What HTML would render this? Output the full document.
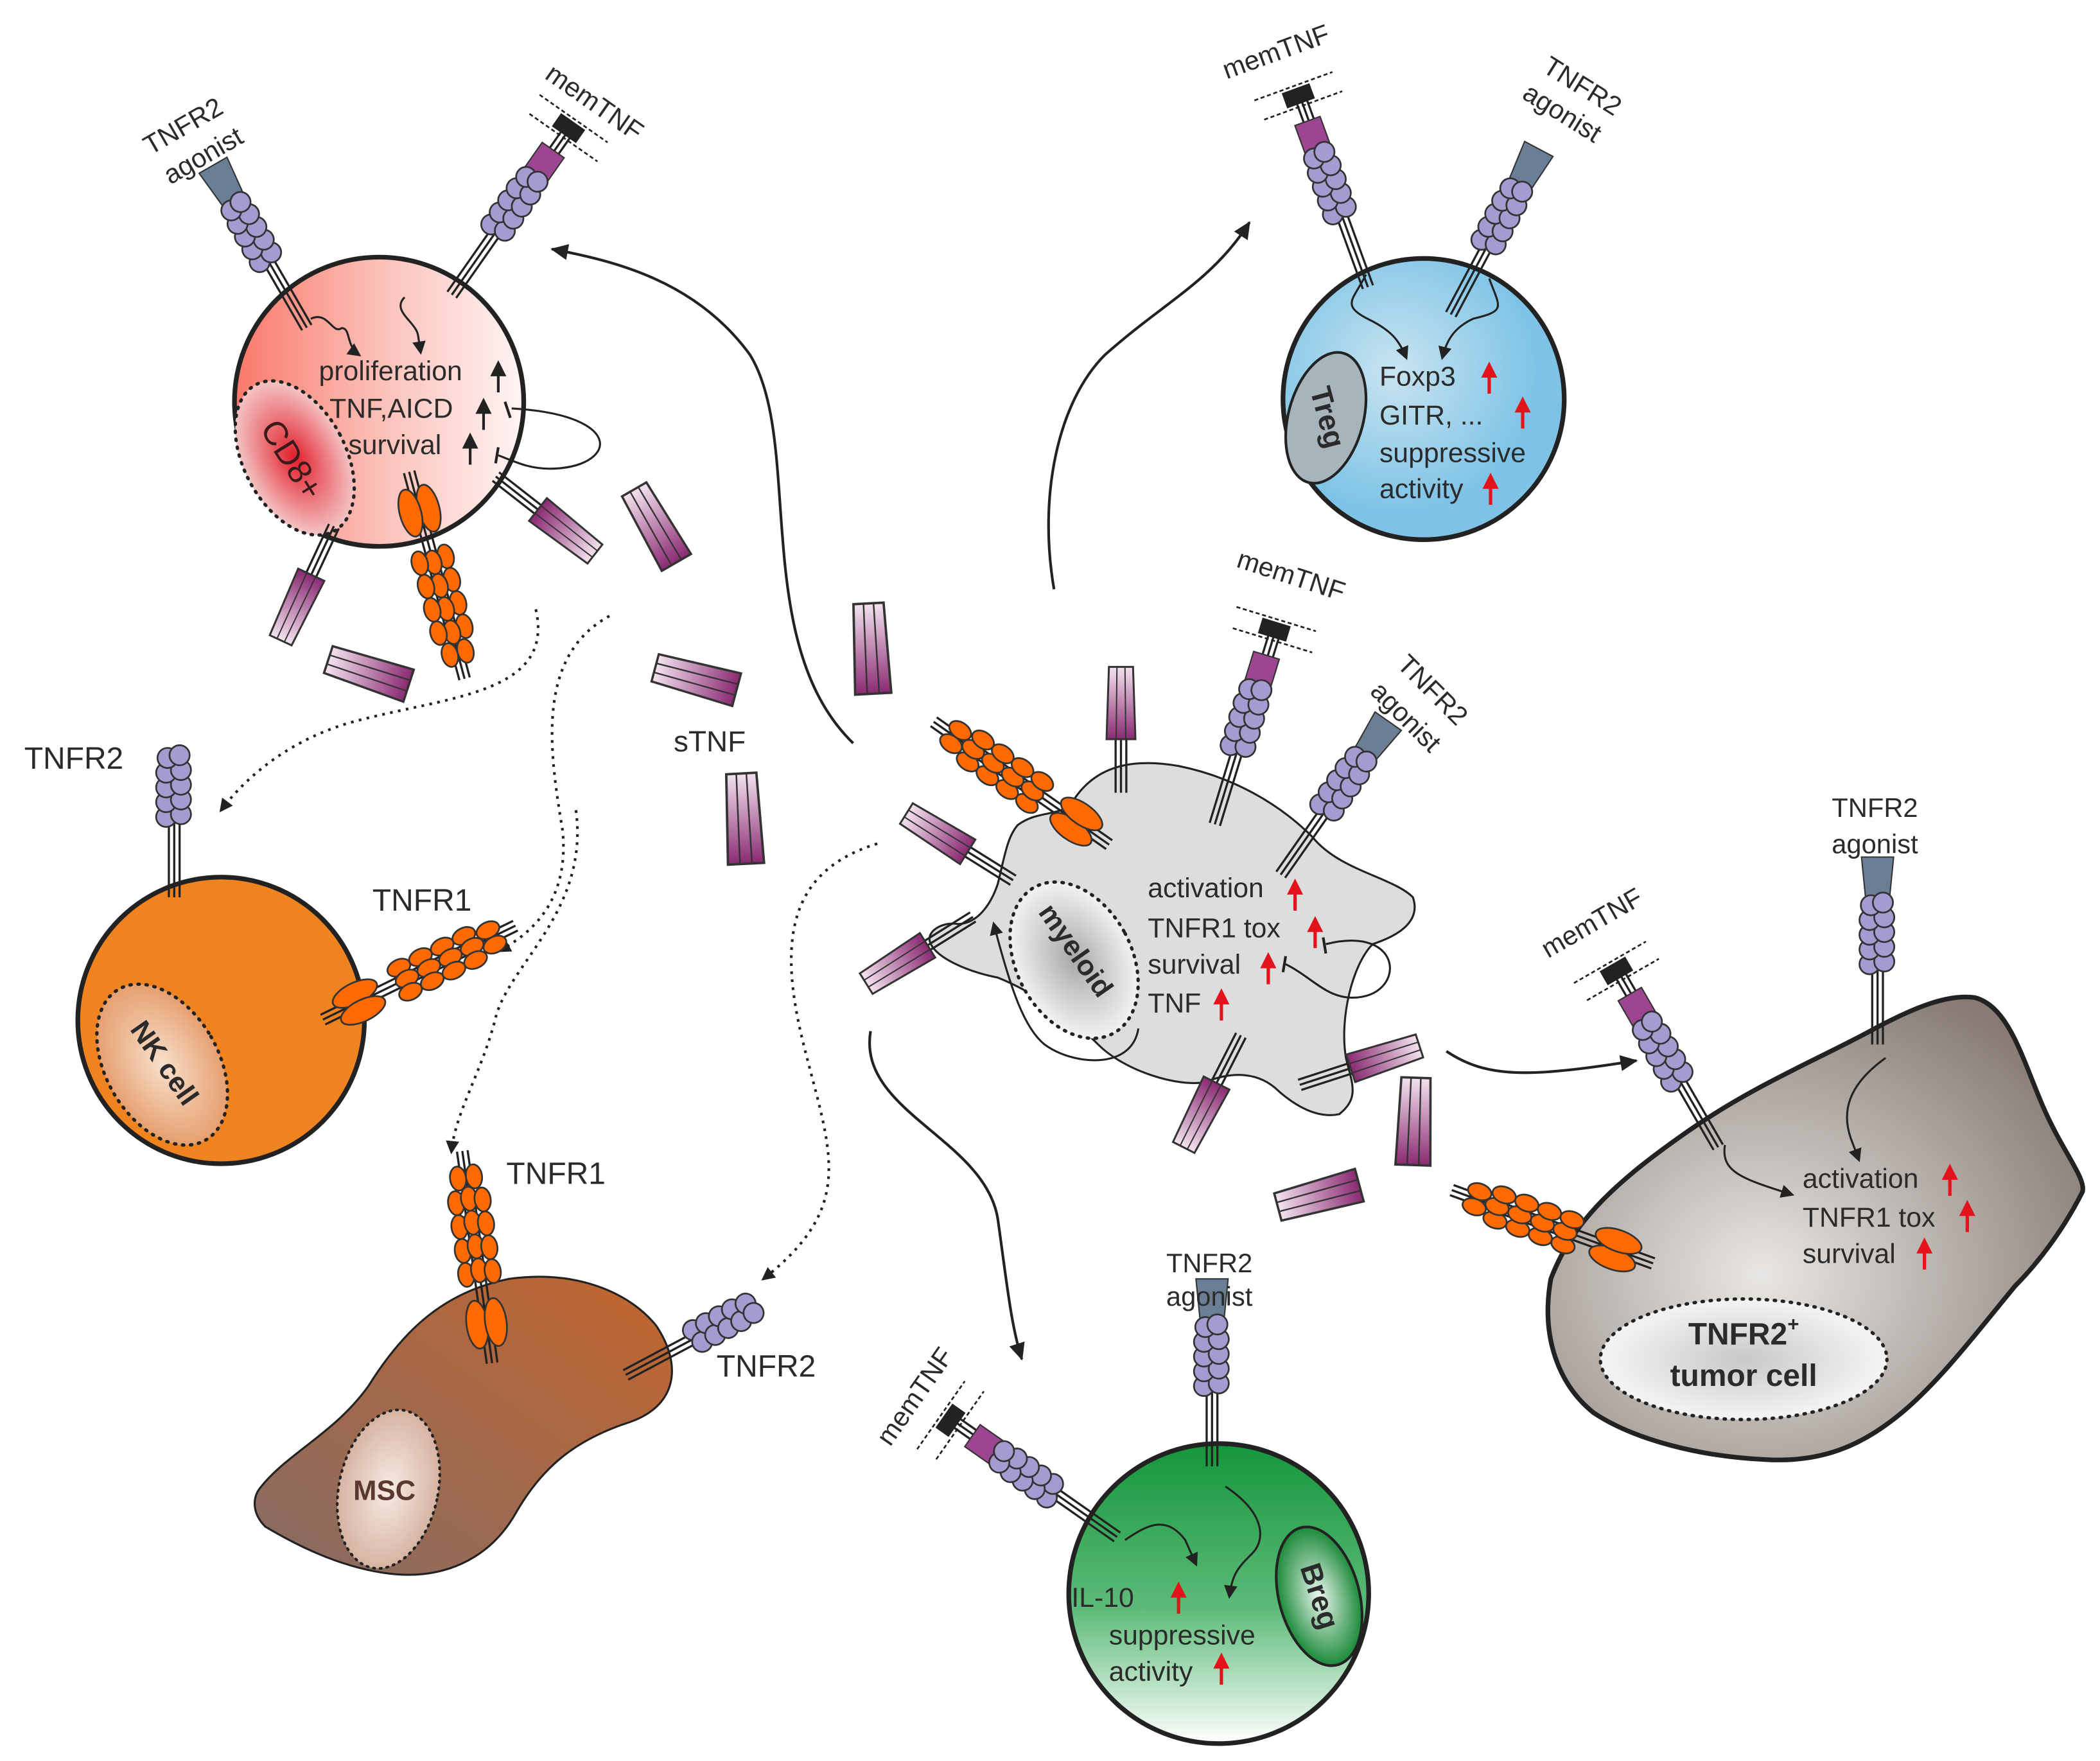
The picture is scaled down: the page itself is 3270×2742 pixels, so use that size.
<!DOCTYPE html>
<html><head><meta charset="utf-8"><style>html,body{margin:0;padding:0;background:#fff}svg{display:block}text{font-family:"Liberation Sans",sans-serif;fill:#2b2b2b}</style></head><body>
<svg width="3270" height="2742" viewBox="0 0 1568 1315" xmlns="http://www.w3.org/2000/svg">
<defs>
<linearGradient id="cd8" x1="0" y1="0" x2="1" y2="0"><stop offset="0" stop-color="#f9786a"/><stop offset="0.5" stop-color="#fbc0b8"/><stop offset="1" stop-color="#fff4f4"/></linearGradient>
<radialGradient id="cd8n"><stop offset="0" stop-color="#e21e2a"/><stop offset="1" stop-color="#f4c4c4"/></radialGradient>
<radialGradient id="treg" cx="0.4" cy="0.4"><stop offset="0" stop-color="#c8e4f0"/><stop offset="1" stop-color="#7ec3e6"/></radialGradient>
<radialGradient id="nkn"><stop offset="0" stop-color="#f7e0cc"/><stop offset="1" stop-color="#e6a070"/></radialGradient>
<linearGradient id="msc" x1="1" y1="0" x2="0" y2="1"><stop offset="0" stop-color="#c2652e"/><stop offset="1" stop-color="#866c64"/></linearGradient>
<radialGradient id="mscn"><stop offset="0" stop-color="#f7ebe4"/><stop offset="1" stop-color="#d6b4a2"/></radialGradient>
<linearGradient id="breg" x1="0" y1="0" x2="0" y2="1"><stop offset="0" stop-color="#14963c"/><stop offset="0.55" stop-color="#5dbb78"/><stop offset="1" stop-color="#ffffff"/></linearGradient>
<radialGradient id="bregn"><stop offset="0" stop-color="#eaf7ee"/><stop offset="1" stop-color="#1c8a3a"/></radialGradient>
<radialGradient id="tum" cx="0.4" cy="0.6" r="0.7"><stop offset="0" stop-color="#e8e6e4"/><stop offset="1" stop-color="#867a72"/></radialGradient>
<radialGradient id="tumn"><stop offset="0" stop-color="#c8c8c8"/><stop offset="1" stop-color="#f4f4f4"/></radialGradient>
<radialGradient id="myn"><stop offset="0" stop-color="#a8a8a8"/><stop offset="1" stop-color="#f2f2f2"/></radialGradient>
<linearGradient id="stg" x1="0" y1="1" x2="0" y2="0"><stop offset="0" stop-color="#8a2a72"/><stop offset="1" stop-color="#f3e3ef"/></linearGradient>
<marker id="ah" markerWidth="10" markerHeight="10" refX="8" refY="5" orient="auto" markerUnits="userSpaceOnUse"><path d="M0,0 L10,5 L0,10 Z" fill="#222"/></marker>
<marker id="ahs" markerWidth="14" markerHeight="14" refX="12" refY="7" orient="auto" markerUnits="userSpaceOnUse"><path d="M0,1 L13,7 L0,13 Z" fill="#222"/></marker>
<g id="stem"><path d="M-4,10 V-50 M0,10 V-50 M4,10 V-50" stroke="#222" stroke-width="1.6" fill="none"/></g>
<g id="chain" stroke="#333" stroke-width="1.3" fill="#a59bd0">
<ellipse cx="-6" cy="-50" rx="7.5" ry="7.5"/><ellipse cx="5" cy="-52" rx="7.5" ry="7.5"/>
<ellipse cx="-6" cy="-61" rx="7.5" ry="7.5"/><ellipse cx="5" cy="-63" rx="7.5" ry="7.5"/>
<ellipse cx="-6" cy="-72" rx="7.5" ry="7.5"/><ellipse cx="5" cy="-74" rx="7.5" ry="7.5"/>
<ellipse cx="-6" cy="-83" rx="7.5" ry="7.5"/><ellipse cx="5" cy="-85" rx="7.5" ry="7.5"/>
<ellipse cx="-5" cy="-94" rx="7.5" ry="7.5"/><ellipse cx="4" cy="-96" rx="7.5" ry="7.5"/>
</g>
<g id="r2"><use href="#stem"/><use href="#chain"/></g>
<g id="ag"><path d="M-9,-100 L9,-100 L12,-130 L-12,-130 Z" fill="#6a7f95" stroke="#333" stroke-width="1"/><use href="#r2"/></g>
<g id="mt"><path d="M-3,-80 V-140 M1,-80 V-140 M5,-80 V-140" stroke="#222" stroke-width="1.6"/><rect x="-10" y="-122" width="20" height="34" fill="#9c4590" stroke="#333" stroke-width="1"/><use href="#r2"/><rect x="-11" y="-148" width="22" height="12" fill="#222"/><path d="M-32,-150 H30 M-30,-134 H32" stroke="#222" stroke-width="1.3" stroke-dasharray="3,2"/></g>
<g id="r1"><path d="M-4,10 V-150 M0,10 V-150 M4,10 V-150" stroke="#222" stroke-width="1.6"/>
<g fill="#ff6a00" stroke="#333" stroke-width="1.3"><ellipse cx="-7" cy="-20" rx="8" ry="18"/><ellipse cx="7" cy="-20" rx="8" ry="18"/>
<ellipse cx="-10" cy="-58" rx="6" ry="9"/><ellipse cx="0" cy="-60" rx="6" ry="9"/><ellipse cx="10" cy="-58" rx="6" ry="9"/>
<ellipse cx="-10" cy="-76" rx="6" ry="9"/><ellipse cx="0" cy="-78" rx="6" ry="9"/><ellipse cx="10" cy="-76" rx="6" ry="9"/>
<ellipse cx="-10" cy="-94" rx="6" ry="9"/><ellipse cx="0" cy="-96" rx="6" ry="9"/><ellipse cx="10" cy="-94" rx="6" ry="9"/>
<ellipse cx="-10" cy="-112" rx="6" ry="9"/><ellipse cx="0" cy="-114" rx="6" ry="9"/><ellipse cx="10" cy="-112" rx="6" ry="9"/>
<ellipse cx="-6" cy="-130" rx="6" ry="9"/><ellipse cx="6" cy="-130" rx="6" ry="9"/></g></g>
<g id="st"><path d="M-9,0 L9,0 L7.5,-45 L-7.5,-45 Z" fill="url(#stg)" stroke="#333" stroke-width="1.2"/><path d="M-3,0 L-2.5,-45 M3,0 L2.5,-45" stroke="#333" stroke-width="0.8"/></g>
<g id="bst"><path d="M-4,10 V-32 M0,10 V-32 M4,10 V-32" stroke="#222" stroke-width="1.6"/><use href="#st" transform="translate(0,-30) scale(1.2)"/></g>
<g id="ra"><path d="M0,0 V-14" stroke="#e3131b" stroke-width="2.5"/><path d="M-6,-12 L6,-12 L0,-24 Z" fill="#e3131b"/></g>
<g id="ba"><path d="M0,0 V-14" stroke="#222" stroke-width="2"/><path d="M-6,-12 L6,-12 L0,-24 Z" fill="#222"/></g>
</defs>

<g fill="none" stroke="#222" stroke-width="2">
<path d="M637,555 C560,480 600,330 560,265 C520,210 460,195 412,186" marker-end="url(#ahs)"/>
<path d="M787,440 C775,370 790,300 825,265 C870,225 905,210 933,166" marker-end="url(#ahs)"/>
<path d="M650,770 C640,830 735,850 745,910 C752,960 755,990 763,1015" marker-end="url(#ahs)"/>
<path d="M1080,785 C1110,805 1140,805 1222,792" marker-end="url(#ahs)"/>
</g>
<g fill="none" stroke="#222" stroke-width="2" stroke-dasharray="2,4">
<path d="M400,455 C415,520 330,520 260,540 C210,555 180,585 165,605" marker-end="url(#ah)"/>
<path d="M455,460 C400,490 410,560 420,620 C425,670 400,695 373,710" marker-end="url(#ah)"/>
<path d="M430,605 C440,680 380,720 370,760 C360,800 340,830 337,860" marker-end="url(#ah)"/>
<path d="M655,630 C590,650 580,700 600,780 C620,860 640,900 570,955" marker-end="url(#ah)"/>
</g>

<!-- CD8 cell -->
<circle cx="283" cy="300" r="108" fill="url(#cd8)" stroke="#222" stroke-width="3.5"/>
<ellipse cx="220" cy="342" rx="38" ry="62" transform="rotate(-28 220 342)" fill="url(#cd8n)" stroke="#222" stroke-width="2.5" stroke-dasharray="1,5" stroke-linecap="round"/>
<text x="215" y="350" font-size="25" transform="rotate(58 215 345)" text-anchor="middle" style="fill:#3a1a1a">CD8+</text>
<use href="#ag" transform="translate(224,236) rotate(-30)"/>
<use href="#mt" transform="translate(343,212) rotate(35)"/>
<use href="#r1" transform="translate(308,362) rotate(165)"/>
<use href="#bst" transform="translate(378,362) rotate(128)"/>
<use href="#bst" transform="translate(245,402) rotate(-155)"/>
<g fill="none" stroke="#222" stroke-width="1.5">
<path d="M232,238 C245,232 248,250 255,245 C262,245 258,258 268,265" marker-end="url(#ah)"/>
<path d="M302,222 C292,232 310,240 312,250 L314,263" marker-end="url(#ah)"/>
<path d="M382,305 C470,310 460,350 410,350 C395,350 385,345 372,340"/>
<path d="M377,300 L381,312 M372,334 L370,346" stroke-width="2"/>
</g>
<g font-size="20.5"><text x="238" y="284">proliferation</text><text x="246" y="312">TNF,AICD</text><text x="260" y="339">survival</text></g>
<use href="#ba" transform="translate(372,293)"/><use href="#ba" transform="translate(361,321)"/><use href="#ba" transform="translate(351,347)"/>
<text x="140" y="100" font-size="20" text-anchor="middle" transform="rotate(-30 140 100)">TNFR2</text>
<text x="155" y="122" font-size="20" text-anchor="middle" transform="rotate(-30 155 122)">agonist</text>
<text x="440" y="82" font-size="20" text-anchor="middle" transform="rotate(35 440 82)">memTNF</text>

<use href="#st" transform="translate(505,420) rotate(-30) scale(1.4)"/>
<use href="#st" transform="translate(305,512) rotate(-72) scale(1.4)"/>
<use href="#st" transform="translate(550,515) rotate(-75) scale(1.4)"/>
<use href="#st" transform="translate(652,518) rotate(-3) scale(1.5)"/>
<use href="#st" transform="translate(557,645) rotate(-3) scale(1.5)"/>
<use href="#st" transform="translate(1015,885) rotate(-105) scale(1.4)"/>
<use href="#st" transform="translate(1055,870) rotate(2) scale(1.45)"/>
<text x="503" y="561" font-size="22">sTNF</text>

<!-- Treg -->
<circle cx="1063" cy="298" r="105" fill="url(#treg)" stroke="#222" stroke-width="3.5"/>
<ellipse cx="990" cy="312" rx="28" ry="50" transform="rotate(15 990 312)" fill="#a8b4bc" stroke="#222" stroke-width="2"/>
<text x="990" y="318" font-size="22" font-weight="bold" text-anchor="middle" transform="rotate(75 990 312)">Treg</text>
<use href="#mt" transform="translate(1018,205) rotate(-20)"/>
<use href="#ag" transform="translate(1088,226) rotate(28)"/>
<g fill="none" stroke="#222" stroke-width="1.5">
<path d="M1020,205 C1010,225 1000,228 1025,240 C1040,248 1045,255 1050,267" marker-end="url(#ah)"/>
<path d="M1112,208 C1120,230 1125,232 1100,238 C1085,245 1080,255 1077,267" marker-end="url(#ah)"/>
</g>
<g font-size="20.5"><text x="1030" y="288">Foxp3</text><text x="1030" y="317">GITR, ...</text><text x="1030" y="345">suppressive</text><text x="1030" y="372">activity</text></g>
<use href="#ra" transform="translate(1112,294)"/><use href="#ra" transform="translate(1137,320)"/><use href="#ra" transform="translate(1113,377)"/>
<text x="955" y="45" font-size="20" text-anchor="middle" transform="rotate(-20 955 45)">memTNF</text>
<text x="1178" y="70" font-size="20" text-anchor="middle" transform="rotate(32 1178 70)">TNFR2</text>
<text x="1163" y="90" font-size="20" text-anchor="middle" transform="rotate(32 1163 90)">agonist</text>

<!-- Myeloid -->
<path d="M760,616 C775,605 790,610 800,600 C815,575 840,565 880,572 C920,580 955,600 980,625 C1000,650 1040,655 1055,670 C1062,690 1040,700 1025,705 C1010,720 1000,760 1005,790 C1010,810 1015,820 1000,832 C985,835 970,828 955,815 C940,800 920,800 900,808 C880,812 840,800 820,780 C800,760 770,740 745,730 C720,725 700,715 695,705 C690,695 705,688 715,690 C730,690 740,675 745,660 C750,640 752,625 760,616 Z" fill="#dcdddd" stroke="#222" stroke-width="1.5"/>
<ellipse cx="802" cy="717" rx="43" ry="62" transform="rotate(-28 802 717)" fill="url(#myn)" stroke="#222" stroke-width="2.5" stroke-dasharray="1,5" stroke-linecap="round"/>
<text x="800" y="715" font-size="21" font-weight="bold" text-anchor="middle" transform="rotate(55 800 712)">myeloid</text>
<use href="#bst" transform="translate(837,582)"/>
<use href="#mt" transform="translate(910,606) rotate(17)"/>
<use href="#ag" transform="translate(962,645) rotate(35)"/>
<use href="#r1" transform="translate(820,625) rotate(-55)"/>
<use href="#bst" transform="translate(748,652) rotate(-58)"/>
<use href="#bst" transform="translate(718,690) rotate(-122)"/>
<use href="#bst" transform="translate(922,782) rotate(-153)"/>
<use href="#bst" transform="translate(980,807) rotate(72)"/>
<g fill="none" stroke="#222" stroke-width="1.5">
<path d="M850,768 C845,800 800,795 780,780 C765,768 755,740 742,690" marker-end="url(#ah)"/>
<path d="M990,705 C1050,690 1050,745 1010,745 C990,745 980,730 960,720"/>
<path d="M988,700 L990,712 M960,714 L958,726" stroke-width="2"/>
</g>
<g font-size="20.5"><text x="857" y="670">activation</text><text x="857" y="700">TNFR1 tox</text><text x="857" y="727">survival</text><text x="857" y="756">TNF</text></g>
<use href="#ra" transform="translate(967,680)"/><use href="#ra" transform="translate(982,708)"/><use href="#ra" transform="translate(947,735)"/><use href="#ra" transform="translate(912,762)"/>
<text x="962" y="436" font-size="20" text-anchor="middle" transform="rotate(18 962 436)">memTNF</text>
<text x="1065" y="520" font-size="20" text-anchor="middle" transform="rotate(45 1065 520)">TNFR2</text>
<text x="1045" y="540" font-size="20" text-anchor="middle" transform="rotate(45 1045 540)">agonist</text>

<!-- NK -->
<circle cx="165" cy="762" r="107" fill="#ef8320" stroke="#222" stroke-width="3.5"/>
<ellipse cx="121" cy="795" rx="42" ry="65" transform="rotate(-30 121 795)" fill="url(#nkn)" stroke="#222" stroke-width="2.5" stroke-dasharray="1,5" stroke-linecap="round"/>
<text x="121" y="800" font-size="21" font-weight="bold" text-anchor="middle" transform="rotate(55 121 795)">NK cell</text>
<use href="#r2" transform="translate(130,660)"/>
<use href="#r1" transform="translate(250,757) rotate(64)"/>
<text x="18" y="574" font-size="23">TNFR2</text>
<text x="278" y="680" font-size="23">TNFR1</text>

<!-- MSC -->
<path d="M195,1110 C215,1085 250,1070 275,1035 C300,995 330,965 380,955 C430,948 470,965 490,990 C510,1020 505,1050 470,1062 C430,1075 405,1095 385,1130 C365,1165 330,1180 290,1175 C250,1170 215,1150 198,1140 C188,1130 188,1118 195,1110 Z" fill="url(#msc)" stroke="#222" stroke-width="1.5"/>
<ellipse cx="290" cy="1112" rx="37" ry="60" transform="rotate(12 290 1112)" fill="url(#mscn)" stroke="#222" stroke-width="2" stroke-dasharray="1,4" stroke-linecap="round"/>
<text x="287" y="1120" font-size="21" font-weight="bold" text-anchor="middle" style="fill:#5a3a30">MSC</text>
<use href="#r1" transform="translate(366,1008) rotate(-8)"/>
<use href="#r2" transform="translate(476,1022) rotate(62)"/>
<text x="378" y="884" font-size="23">TNFR1</text>
<text x="535" y="1028" font-size="23">TNFR2</text>

<!-- Breg -->
<circle cx="910" cy="1190" r="112" fill="url(#breg)" stroke="#222" stroke-width="3.5"/>
<ellipse cx="985" cy="1192" rx="30" ry="53" transform="rotate(-15 985 1192)" fill="url(#bregn)" stroke="#222" stroke-width="2"/>
<text x="985" y="1199" font-size="22" font-weight="bold" text-anchor="middle" transform="rotate(72 985 1192)">Breg</text>
<use href="#mt" transform="translate(826,1142) rotate(-55)"/>
<use href="#ag" transform="translate(905,1085)"/>
<g fill="none" stroke="#222" stroke-width="1.5">
<path d="M840,1150 C855,1140 870,1130 885,1150 L893,1168" marker-end="url(#ah)"/>
<path d="M915,1110 C945,1130 945,1150 935,1160 C925,1170 920,1175 918,1192" marker-end="url(#ah)"/>
</g>
<g font-size="20.5"><text x="800" y="1200">IL-10</text><text x="828" y="1228">suppressive</text><text x="828" y="1255">activity</text></g>
<use href="#ra" transform="translate(880,1205)"/><use href="#ra" transform="translate(912,1258)"/>
<text x="682" y="1050" font-size="20" text-anchor="middle" transform="rotate(-55 682 1042)">memTNF</text>
<text x="903" y="950" font-size="20" text-anchor="middle">TNFR2</text>
<text x="903" y="975" font-size="20" text-anchor="middle">agonist</text>

<!-- Tumor -->
<path d="M1158,955 C1175,910 1210,880 1260,845 C1310,810 1360,790 1400,768 C1430,752 1455,742 1475,745 C1500,752 1510,790 1525,825 C1540,860 1558,880 1555,890 C1540,920 1520,945 1505,960 C1480,990 1450,1030 1420,1055 C1390,1080 1360,1092 1320,1090 C1270,1088 1220,1075 1190,1055 C1165,1035 1150,1000 1158,955 Z" fill="url(#tum)" stroke="#222" stroke-width="3.5"/>
<ellipse cx="1302" cy="1015" rx="107" ry="45" fill="url(#tumn)" stroke="#222" stroke-width="2.5" stroke-dasharray="1,5" stroke-linecap="round"/>
<text x="1302" y="1004" font-size="23" font-weight="bold" text-anchor="middle">TNFR2<tspan font-size="15" dy="-10">+</tspan></text>
<text x="1302" y="1035" font-size="23" font-weight="bold" text-anchor="middle">tumor cell</text>
<use href="#mt" transform="translate(1278,848) rotate(-30)"/>
<use href="#ag" transform="translate(1402,770)"/>
<use href="#r1" transform="translate(1225,940) rotate(-70)"/>
<g fill="none" stroke="#222" stroke-width="1.5">
<path d="M1408,790 C1380,810 1375,830 1382,850 L1388,866" marker-end="url(#ah)"/>
<path d="M1288,855 C1285,875 1300,880 1338,892" marker-end="url(#ah)"/>
</g>
<g font-size="20.5"><text x="1346" y="887">activation</text><text x="1346" y="916">TNFR1 tox</text><text x="1346" y="943">survival</text></g>
<use href="#ra" transform="translate(1456,893)"/><use href="#ra" transform="translate(1469,920)"/><use href="#ra" transform="translate(1437,948)"/>
<text x="1192" y="695" font-size="20" text-anchor="middle" transform="rotate(-30 1192 695)">memTNF</text>
<text x="1400" y="610" font-size="20" text-anchor="middle">TNFR2</text>
<text x="1400" y="637" font-size="20" text-anchor="middle">agonist</text>
</svg>
</body></html>
